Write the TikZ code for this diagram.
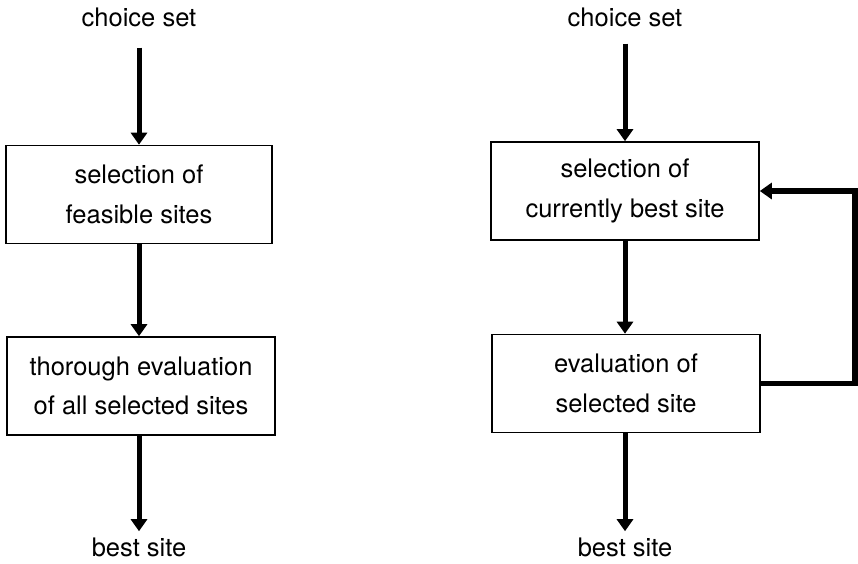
\documentclass[tikz,border=0pt]{standalone}
\usepackage{fontspec}
\setmainfont{TeX Gyre Heros}
\usetikzlibrary{arrows.meta}
\begin{document}
\begin{tikzpicture}[x=1pt,y=-1pt,
  every node/.style={font=\fontsize{25.5}{39.5}\selectfont},
  lbl/.style={inner sep=0pt, anchor=base},
  procbox/.style={draw, line width=1.6pt, align=center, inner sep=0pt, minimum height=98pt},
  arr/.style={line width=5pt, -{Triangle[length=12pt,width=16pt]}},
  fb/.style={line width=5.5pt, -{Triangle[length=12pt,width=16pt]}}
]
\useasboundingbox (0,0) rectangle (858,563);
% left column
\node[lbl] (cs1) at (139,26) {choice set};
\node[procbox, minimum width=266pt] (b1) at (139,194.5) {selection of\\feasible sites};
\node[procbox, minimum width=268pt] (b2) at (141,386) {thorough evaluation\\of all selected sites};
\node[lbl] (bs1) at (139,556) {best site};
\draw[arr, shorten <=21pt] (cs1.south) -- (b1.north);
\draw[arr] (b1.south) -- (b1.south |- b2.north);
\draw[arr, shorten >=6pt] (b1.south |- b2.south) -- (bs1.north);
% right column
\node[lbl] (cs2) at (625,26) {choice set};
\node[procbox, minimum width=268pt] (b3) at (625,191) {selection of\\currently best site};
\node[procbox, minimum width=268pt] (b4) at (626,383.5) {evaluation of\\selected site};
\node[lbl] (bs2) at (625,556) {best site};
\draw[arr, shorten <=17pt] (cs2.south) -- (b3.north);
\draw[arr] (b3.south) -- (b3.south |- b4.north);
\draw[arr, shorten >=6pt] (b3.south |- b4.south) -- (bs2.north);
% feedback loop
\draw[fb] (b4.east) -- ++(94,0) |- (b3.east);
\end{tikzpicture}
\end{document}
